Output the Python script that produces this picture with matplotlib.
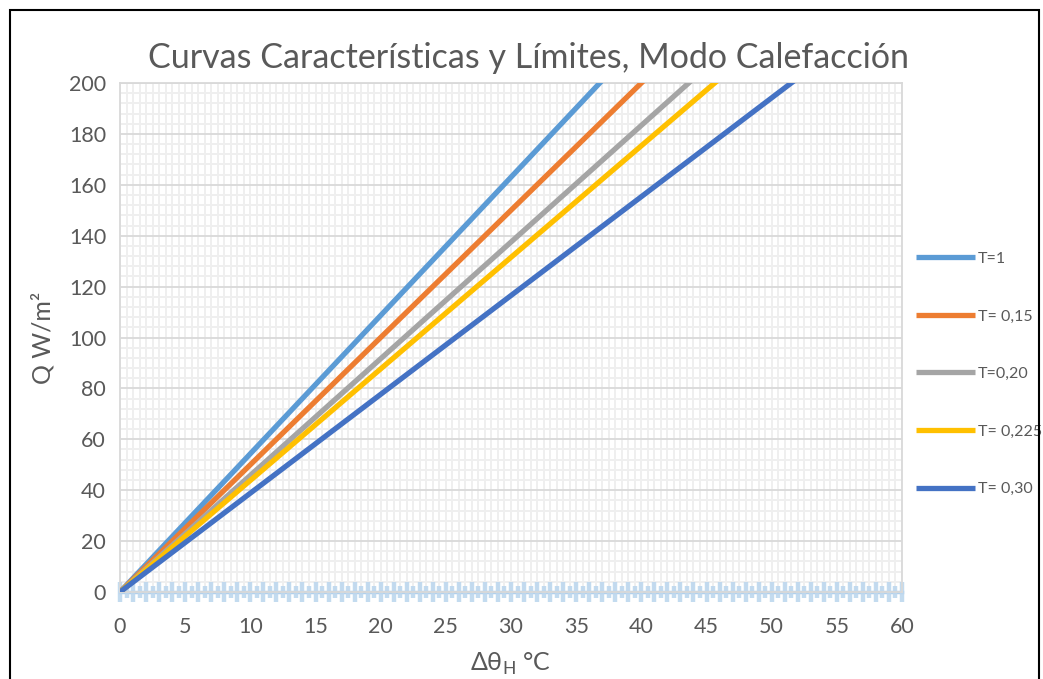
import numpy as np
import matplotlib
matplotlib.use('Agg')
import matplotlib.pyplot as plt
from matplotlib.ticker import MultipleLocator
from matplotlib.patches import Rectangle

plt.rcParams['font.family'] = ['Lato', 'DejaVu Sans']

# ---------------------------------------------------------------------------
# Data: characteristic curves (straight lines from the origin)
# ---------------------------------------------------------------------------
dtheta = [0, 60]
labels = ['T=1', 'T= 0,15', 'T=0,20', 'T= 0,225', 'T= 0,30']
q_values = [
    [0, 326],   # T=1
    [0, 300],   # T=0,15
    [0, 275],   # T=0,20
    [0, 263],   # T=0,225
    [0, 233],   # T=0,30
]
colors = ['#5b9bd5', '#ed7d31', '#a5a5a5', '#ffc000', '#4472c4']

# limit series along the zero line (alternating bars)
limit_x = np.arange(0, 60.5, 0.5)
limit_half = [3.8 if i % 2 == 0 else 2.4 for i in range(len(limit_x))]

x_ticks = list(range(0, 61, 5))
y_ticks = list(range(0, 201, 20))

txt = '#595959'

fig = plt.figure(figsize=(10.43, 6.79), dpi=100)
ax = fig.add_axes([120 / 1043, 1 - 592 / 679, 782 / 1043, 509 / 679])

ax.set_xlim(0, 60)
ax.set_ylim(0, 200)
ax.set_xticks(x_ticks)
ax.set_yticks(y_ticks)
ax.xaxis.set_minor_locator(MultipleLocator(0.5))
ax.yaxis.set_minor_locator(MultipleLocator(4))
ax.grid(which='minor', color='#efefef', linewidth=1.4)
ax.grid(which='major', axis='y', color='#d9d9d9', linewidth=1.3)
ax.grid(which='major', axis='x', color='#efefef', linewidth=1.4)
ax.set_axisbelow(True)
ax.tick_params(which='both', length=0, labelsize=15.5, colors=txt)
ax.tick_params(axis='y', pad=10)
ax.tick_params(axis='x', pad=18)
for s in ax.spines.values():
    s.set_color('#d9d9d9')
    s.set_linewidth(1.3)

# limit series along zero
ax.plot(limit_x, np.zeros_like(limit_x), color='#9dc3e6', lw=2.5, alpha=0.8,
        clip_on=False, zorder=2)
ax.vlines(limit_x, [-h for h in limit_half], limit_half, color='#bdd7ee',
          lw=3.2, alpha=0.9, clip_on=False, zorder=2)

for y, c, lab in zip(q_values, colors, labels):
    ax.plot(dtheta, y, color=c, lw=3.8, label=lab, solid_capstyle='butt',
            zorder=3)

ax.set_title('Curvas Características y Límites, Modo Calefacción',
             fontsize=24.5, color=txt, pad=11, x=0.523)
ax.set_ylabel('Q W/m²', fontsize=18, color=txt, labelpad=10)
ax.set_xlabel(r'Δθ$_\mathregular{H}$ °C', fontsize=18, color=txt,
              labelpad=10)

leg = ax.legend(loc='upper left', bbox_to_anchor=(1.0, 0.697),
                frameon=False, fontsize=11.5, handlelength=3.7,
                handletextpad=0.15, labelspacing=2.72)
for t in leg.get_texts():
    t.set_color(txt)

# outer frame
fig.patches.append(Rectangle((10 / 1043, -0.01), 1029 / 1043, 1 - 10 / 679 + 0.01,
                             transform=fig.transFigure, fill=False,
                             edgecolor='black', linewidth=1.5))

fig.savefig('out.png', dpi=100)
